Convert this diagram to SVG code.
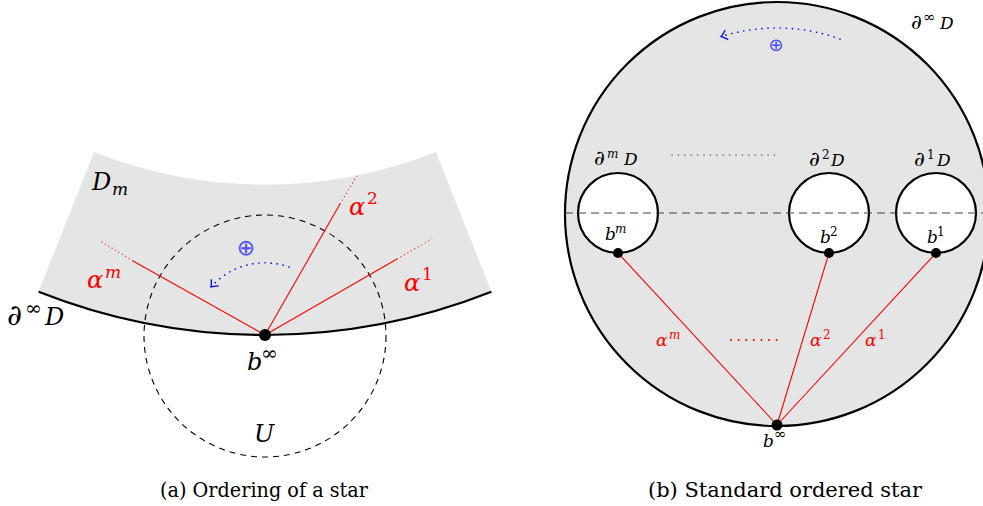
<svg xmlns="http://www.w3.org/2000/svg" width="983" height="506" viewBox="0 0 983 506">
<style>
text{font-family:'DejaVu Serif',serif}
.m{font-style:italic;fill:#000}
.r{fill:#ff0000}
.up{font-style:normal}
.cap{font-size:20px;fill:#000}
.red{stroke:#ff0000;stroke-width:1.1;fill:none}
.reddot{stroke:#ff0000;stroke-width:1.1;fill:none;stroke-dasharray:1 3}
.thick{stroke:#000;stroke-width:2.2;fill:none}
.blue{stroke:#0000ff;stroke-width:1.6;fill:none;stroke-dasharray:0.1 6;stroke-linecap:round}
text.oplus{font-family:'DejaVu Sans',sans-serif;fill:#4d4dff}
</style>
<defs>
<marker id="barb" viewBox="-8 -6 10 12" markerWidth="10" markerHeight="12" refX="0" refY="0" orient="auto" markerUnits="userSpaceOnUse">
<path d="M-6,-5 Q-2,-1 0,0 Q-2,1 -6,5" stroke="#0000ff" stroke-width="1.3" fill="none"/>
</marker>
</defs>

<!-- (a) Ordering of a star -->
<g id="regionA">
<path d="M94,152 A464.6,464.6 0 0 0 436,152 L491.4,291.8 A615,615 0 0 1 38.6,291.8 Z" fill="#e5e5e5"/>
<path class="thick" d="M38.6,291.8 A615,615 0 0 0 491.4,291.8"/>
</g>
<g id="U">
<circle cx="265" cy="336" r="121" fill="none" stroke="#000" stroke-width="1.1" stroke-dasharray="6 5"/>
</g>
<g id="connectorsA">
<line class="red" x1="265" y1="335" x2="133" y2="261"/>
<line class="reddot" x1="133" y1="261" x2="100" y2="241"/>
<line class="red" x1="265" y1="335" x2="340" y2="204"/>
<line class="reddot" x1="340" y1="204" x2="358" y2="174"/>
<line class="red" x1="265" y1="335" x2="397" y2="259"/>
<line class="reddot" x1="397" y1="259" x2="432" y2="239"/>
<path class="blue" d="M289,267 A72,72 0 0 0 211,287" marker-end="url(#barb)"/>
</g>
<g id="binfA">
<circle cx="265" cy="335" r="6" fill="#000"/>
</g>
<g id="labelsA">
<text class="m" font-size="24"><tspan x="92" y="190">D</tspan><tspan x="112" y="195" font-size="17">m</tspan></text>
<text class="m" font-size="24"><tspan class="up" x="7" y="325" font-size="29">∂</tspan><tspan class="up" x="25" y="315" font-size="20">∞</tspan><tspan x="45" y="325">D</tspan></text>
<text class="m r" font-size="24"><tspan x="87" y="288">α</tspan><tspan x="105" y="278" font-size="17">m</tspan></text>
<text class="m r" font-size="24"><tspan x="349" y="215">α</tspan><tspan class="up" x="367" y="204" font-size="17">2</tspan></text>
<text class="m r" font-size="24"><tspan x="404" y="291">α</tspan><tspan class="up" x="422" y="280" font-size="17">1</tspan></text>
<text class="m" font-size="24"><tspan x="247" y="370">b</tspan><tspan class="up" x="261" y="360" font-size="20">∞</tspan></text>
<text class="m" font-size="24" x="254" y="442">U</text>
<text class="oplus" font-size="22" x="246" y="255" text-anchor="middle">⊕</text>
</g>
<text class="cap" x="264" y="497" text-anchor="middle" textLength="208" lengthAdjust="spacingAndGlyphs">(a) Ordering of a star</text>

<!-- (b) Standard ordered star -->
<g id="diskB">
<circle cx="777" cy="214" r="212" fill="#e5e5e5" stroke="#000" stroke-width="2.2"/>
</g>
<g id="holeM"><circle cx="618" cy="213" r="40" fill="#fff" stroke="#000" stroke-width="2.2"/></g>
<g id="hole2"><circle cx="829" cy="213" r="40" fill="#fff" stroke="#000" stroke-width="2.2"/></g>
<g id="hole1"><circle cx="936" cy="213" r="40" fill="#fff" stroke="#000" stroke-width="2.2"/></g>
<line x1="565" y1="213" x2="983" y2="213" stroke="#444" stroke-width="1.2" stroke-dasharray="8 5"/>
<line x1="672" y1="155" x2="775" y2="155" stroke="#000" stroke-width="1.2" stroke-dasharray="0.1 6.3" stroke-linecap="round"/>
<g id="connectorsB">
<line class="red" x1="777" y1="425" x2="618" y2="253"/>
<line class="red" x1="777" y1="425" x2="829" y2="253"/>
<line class="red" x1="777" y1="425" x2="936" y2="253"/>
<line x1="731" y1="340" x2="784" y2="340" stroke="#ff0000" stroke-width="2" stroke-dasharray="0.1 7.5" stroke-linecap="round"/>
<path class="blue" d="M840,39 A186,186 0 0 0 721,36.6" marker-end="url(#barb)"/>
</g>
<g id="pointsB">
<circle cx="618" cy="253" r="5" fill="#000"/>
<circle cx="829" cy="253" r="5" fill="#000"/>
<circle cx="936" cy="253" r="5" fill="#000"/>
<circle cx="777" cy="425" r="5.5" fill="#000"/>
</g>
<g id="labelsB">
<text class="m" font-size="17"><tspan class="up" x="594" y="165" font-size="21">∂</tspan><tspan x="607" y="158" font-size="12">m</tspan><tspan x="624" y="165">D</tspan></text>
<text class="m" font-size="17"><tspan class="up" x="809" y="166" font-size="21">∂</tspan><tspan class="up" x="822" y="159" font-size="12">2</tspan><tspan x="831" y="166">D</tspan></text>
<text class="m" font-size="17"><tspan class="up" x="914" y="166" font-size="21">∂</tspan><tspan class="up" x="927" y="159" font-size="12">1</tspan><tspan x="937" y="166">D</tspan></text>
<text class="m" font-size="17"><tspan class="up" x="911" y="29" font-size="21">∂</tspan><tspan class="up" x="923" y="22" font-size="15">∞</tspan><tspan x="940" y="29">D</tspan></text>
<text class="m" font-size="17"><tspan x="605" y="240">b</tspan><tspan x="615" y="233" font-size="12">m</tspan></text>
<text class="m" font-size="17"><tspan x="820" y="243">b</tspan><tspan class="up" x="830" y="236" font-size="12">2</tspan></text>
<text class="m" font-size="17"><tspan x="927" y="243">b</tspan><tspan class="up" x="937" y="236" font-size="12">1</tspan></text>
<text class="m" font-size="17"><tspan x="763" y="447">b</tspan><tspan class="up" x="774" y="439" font-size="15">∞</tspan></text>
<text class="m r" font-size="17"><tspan x="656" y="346">α</tspan><tspan x="669" y="339" font-size="12">m</tspan></text>
<text class="m r" font-size="17"><tspan x="810" y="346">α</tspan><tspan class="up" x="823" y="339" font-size="12">2</tspan></text>
<text class="m r" font-size="17"><tspan x="865" y="346">α</tspan><tspan class="up" x="878" y="339" font-size="12">1</tspan></text>
<text class="oplus" font-size="18" x="776" y="51" text-anchor="middle">⊕</text>
</g>
<text class="cap" x="785" y="497" text-anchor="middle" textLength="274" lengthAdjust="spacingAndGlyphs">(b) Standard ordered star</text>
</svg>
